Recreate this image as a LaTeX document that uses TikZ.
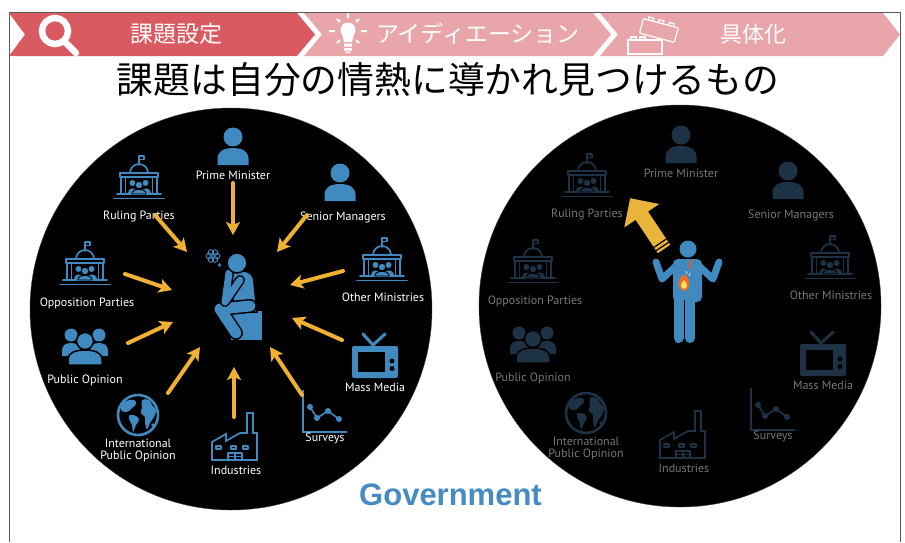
\documentclass[tikz,border=0pt]{standalone}
\usepackage{fontspec}
\setmainfont{PT Sans}
\newfontfamily\jpfont{Noto Sans CJK JP}
\newfontfamily\labfont{PT Sans}
\newfontfamily\govfont{Liberation Sans}
\usetikzlibrary{arrows.meta}

\definecolor{bannerred}{RGB}{217,90,97}
\definecolor{bannerpink}{RGB}{233,166,170}
\definecolor{iconblue}{RGB}{64,138,192}
\definecolor{icondim}{RGB}{30,50,70}
\definecolor{labdim}{RGB}{120,120,120}
\definecolor{arrowgold}{RGB}{240,176,50}
\definecolor{biggold}{RGB}{233,180,60}
\definecolor{govblue}{RGB}{70,140,195}
\definecolor{framegray}{RGB}{90,90,90}
\definecolor{flameorange}{RGB}{240,110,30}
\definecolor{flameyellow}{RGB}{255,220,90}
\colorlet{ic}{iconblue}
\colorlet{lb}{white}

\tikzset{
  iconlabel/.style={text=lb, inner sep=0pt, font=\labfont\fontsize{12}{12}\selectfont},
  bannertext/.style={text=white, inner sep=0pt, font=\jpfont\fontsize{23}{26}\selectfont},
  feed/.style={draw=arrowgold, line width=4pt, line cap=round,
    -{Stealth[length=13pt,width=14pt,inset=3pt]}},
  iconstroke/.style={draw=ic, line width=1.7pt, line join=round, line cap=round},
  pics/person/.style={code={
      \fill[ic] (0,0) circle[radius=9.5];
      \fill[ic] (-15.5,28) -- (-15.5,22) .. controls (-15.5,14) and (-9,11) .. (0,11)
        .. controls (9,11) and (15.5,14) .. (15.5,22) -- (15.5,28) -- cycle;
  }},
  pics/capitol/.style={code={
      \draw[iconstroke] (0,-14) -- (0,-23) -- (5,-23) -- (5,-19.5) -- (0,-19.5);
      \draw[iconstroke] (-9,-6) arc[start angle=180,end angle=360,radius=9];
      \draw[iconstroke] (-19,-6) -- (19,-6) -- (19,-2) -- (-19,-2) -- cycle;
      \draw[iconstroke] (-18,-2) -- (-18,15) (-13.5,-2) -- (-13.5,15)
                        (13.5,-2) -- (13.5,15) (18,-2) -- (18,15);
      \draw[iconstroke] (-22,15) -- (22,15) (-25,19.5) -- (25,19.5);
      % seated group inside the hall
      \fill[ic] (-6.5,4) circle[radius=3];
      \fill[ic] (6.5,4) circle[radius=3];
      \fill[ic] (-11.5,14) .. controls (-11.5,8) and (-2,8) .. (-2,14) -- cycle;
      \fill[ic] (2,14) .. controls (2,8) and (11.5,8) .. (11.5,14) -- cycle;
      \filldraw[ic, draw=black, line width=0.9pt] (0,6) circle[radius=3.8];
      \filldraw[ic, draw=black, line width=0.9pt] (-7,15) -- (-7,14.5)
        .. controls (-7,9) and (7,9) .. (7,14.5) -- (7,15) -- cycle;
  }},
  pics/crowd/.style={code={
      \fill[ic] (-14,-13) circle[radius=6.5];
      \fill[ic] (14,-13) circle[radius=6.5];
      \fill[ic] (-23,8) -- (-23,3) .. controls (-23,-3) and (-19,-5) .. (-14,-5)
        .. controls (-9,-5) and (-5,-3) .. (-5,3) -- (-5,8) -- cycle;
      \fill[ic] (23,8) -- (23,3) .. controls (23,-3) and (19,-5) .. (14,-5)
        .. controls (9,-5) and (5,-3) .. (5,3) -- (5,8) -- cycle;
      \filldraw[ic, draw=black, line width=1.5pt] (0,-7) circle[radius=8.5];
      \filldraw[ic, draw=black, line width=1.5pt] (-17,17) -- (-17,11)
        .. controls (-17,5) and (-10,2) .. (0,2) .. controls (10,2) and (17,5) .. (17,11)
        -- (17,17) -- cycle;
  }},
  pics/globe/.style={code={
      \draw[ic, line width=2.6pt] (0,0) circle[radius=20];
      % the Americas
      \fill[ic] plot[smooth cycle, tension=0.7] coordinates
        {(-17,-8) (-12,-14) (-4,-15) (-2,-11) (-6,-7) (-9,-4) (-12,-3) (-16,-4)};
      \fill[ic] plot[smooth cycle, tension=0.7] coordinates
        {(-8,0) (-2,1) (1,5) (-2,10) (-5,17) (-6,10) (-9,4)};
      % Europe and Africa
      \fill[ic] plot[smooth cycle, tension=0.7] coordinates
        {(4,-15) (11,-15) (14,-10) (18,-5) (16,2) (12,8) (9,14) (7,8) (7,2) (3,-2) (4,-8)};
      \fill[ic] (15,10) circle[radius=1.8];
  }},
  pics/factory/.style={code={
      \draw[iconstroke, line join=miter] (-23,23) -- (-23,5) -- (-9,-3) -- (-9,4) -- (5,-4)
        -- (12,-4) -- (12,-24) -- (18,-24) -- (18,-4) -- (22,-4) -- (22,23) -- cycle;
      \draw[iconstroke] (-19,9) rectangle (-14,12) (-4,9) rectangle (1,12) (8,9) rectangle (13,12);
      \draw[iconstroke] (-7,23) -- (-7,16) -- (7,16) -- (7,23) (0,16) -- (0,23) (-7,19.5) -- (7,19.5);
  }},
  pics/chart/.style={code={
      \draw[ic, line width=1.8pt] (-22,-21) -- (-22,21) -- (22,21);
      \draw[ic, line width=1.6pt] (-15,-4) -- (-8,7) -- (3,0) -- (14,8);
      \foreach \p in {(-15,-4),(-8,7),(3,0),(14,8)} \fill[ic] \p circle[radius=3];
  }},
  pics/tv/.style={code={
      \draw[ic, line width=3pt, line cap=round, line join=round] (-12,-22) -- (-2,-11) -- (10,-22);
      \fill[ic, rounded corners=2pt] (-23,-10) rectangle (23,22);
      \fill[black] (-17,-4) rectangle (10,16);
      \fill[black] (17,5) circle[radius=2.5] (17,12.5) circle[radius=2.5];
  }},
}

% one panel of stakeholders around the government circle
\newcommand{\govpanel}[3]{%
  \begin{scope}[shift={(#2,#3)}]
    \pic (#1pm) at (233,137) {person};
    \node[iconlabel] (#1pmlab) at (233,175) {Prime Minister};
    \pic (#1sm) at (340,173) {person};
    \node[iconlabel] (#1smlab) at (343,217) {Senior Managers};
    \pic (#1rp) at (139,179) {capitol};
    \node[iconlabel] (#1rplab) at (139,217) {Ruling Parties};
    \pic (#1op) at (85,265) {capitol};
    \node[iconlabel] (#1oplab) at (87,303) {Opposition Parties};
    \pic (#1om) at (382,261) {capitol};
    \node[iconlabel] (#1omlab) at (383,297) {Other Ministries};
    \pic (#1po) at (85,348) {crowd};
    \node[iconlabel] (#1polab) at (85,380) {Public Opinion};
    \pic (#1ipo) at (138,415) {globe};
    \node[iconlabel, align=center] (#1ipolab) at (138,450) {International\\Public Opinion};
    \pic (#1ind) at (235,437) {factory};
    \node[iconlabel] (#1indlab) at (236,470) {Industries};
    \pic (#1sur) at (325,411) {chart};
    \node[iconlabel] (#1surlab) at (325,438) {Surveys};
    \pic (#1mm) at (375,356) {tv};
    \node[iconlabel] (#1mmlab) at (375,387) {Mass Media};
  \end{scope}}

\begin{document}
\begin{tikzpicture}[x=1pt,y=-1pt]
  \useasboundingbox (0,0) rectangle (905,542);
  \fill[white] (0,0) rectangle (905,542);

  % outer frame
  \draw[framegray, line width=1pt] (9,542) -- (9,12) -- (900,12) -- (900,542);

  % process banner
  \fill[bannerred] (9,13) -- (297,13) -- (315,34.5) -- (297,56) -- (9,56) -- (25,34.5) -- cycle;
  \fill[bannerpink] (304,13) -- (593,13) -- (611,34.5) -- (593,56) -- (304,56) -- (322,34.5) -- cycle;
  \fill[bannerpink] (600,13) -- (883,13) -- (900,34.5) -- (883,56) -- (600,56) -- (618,34.5) -- cycle;

  % magnifier
  \draw[white, line width=6.5pt] (55,31) circle[radius=13];
  \draw[white, line width=6.5pt, line cap=round] (65,42) -- (76,53);
  % light bulb
  \fill[white] (348,30) circle[radius=7.5];
  \fill[white] (341.5,32) -- (354.5,32) -- (352,42) -- (344,42) -- cycle;
  \fill[white] (344,43.5) rectangle (352,46.5) (344,48) rectangle (352,50.5) (345.5,51.5) rectangle (350.5,53);
  \draw[white, line width=2pt]
    (348,13) -- (348,18) (337,19) -- (340,22) (359,19) -- (356,22)
    (329,31) -- (335,31) (361,31) -- (367,31) (337,43) -- (340,40) (359,43) -- (356,40);
  % building blocks
  \draw[white, line width=1.2pt] (628,40) rectangle (662,54);
  \draw[white, line width=1.2pt] (631,40) -- (631,37) -- (636,37) -- (636,40) (640,40) -- (640,37) -- (645,37) -- (645,40);
  \begin{scope}[shift={(659,30)}, rotate=-15]
    \fill[bannerpink] (-18,-7) rectangle (18,8);
    \draw[white, line width=1.2pt, rounded corners=1pt] (-18,-7) rectangle (18,8);
    \draw[white, line width=1.2pt] (-13,-7) -- (-13,-10) -- (-8,-10) -- (-8,-7)
      (-2.5,-7) -- (-2.5,-10) -- (2.5,-10) -- (2.5,-7) (8,-7) -- (8,-10) -- (13,-10) -- (13,-7);
  \end{scope}

  \node[bannertext] (step1) at (176,34) {課題設定};
  \node[bannertext] (step2) at (478,34) {アイディエーション};
  \node[bannertext, font=\jpfont\fontsize{22}{26}\selectfont] (step3) at (753,34) {具体化};

  % heading
  \node[inner sep=0pt, font=\jpfont\fontsize{36.8}{40}\selectfont] (title) at (448,80)
    {課題は自分の情熱に導かれ見つけるもの};

  % the two government circles
  \filldraw[black, draw=black!75] (231,309) circle[radius=201];
  \filldraw[black, draw=black!75] (680,306) circle[radius=201];

  % left: everyone pushes an agenda at the official
  \colorlet{ic}{iconblue}\colorlet{lb}{white}
  \govpanel{L}{0}{0}

  \coordinate (f1s) at (233,183); \coordinate (f1e) at (233,235);
  \coordinate (f2s) at (307,215); \coordinate (f2e) at (277,252);
  \coordinate (f3s) at (155,215); \coordinate (f3e) at (187,252);
  \coordinate (f4s) at (125,274); \coordinate (f4e) at (172,290);
  \coordinate (f5s) at (343,271); \coordinate (f5e) at (290,285);
  \coordinate (f6s) at (128,343); \coordinate (f6e) at (173,322);
  \coordinate (f7s) at (168,393); \coordinate (f7e) at (200,347);
  \coordinate (f8s) at (234,417); \coordinate (f8e) at (234,367);
  \coordinate (f9s) at (302,395); \coordinate (f9e) at (270,347);
  \coordinate (f10s) at (342,340); \coordinate (f10e) at (292,318);
  \foreach \k in {1,...,10} \draw[feed] (f\k s) -- (f\k e);

  % the thinker
  \fill[iconblue] (231,311) rectangle (262,340);
  \filldraw[iconblue, draw=black, line width=1.5pt] (229,283) .. controls (228,274) and (234,271) .. (242,271)
    .. controls (250,271) and (254,275) .. (254,283) -- (257,312) -- (236,312) -- cycle;
  \draw[black, line width=14pt, line cap=round, line join=round] (250,306) -- (220,309) -- (236,333);
  \draw[iconblue, line width=11pt, line cap=round, line join=round] (250,306) -- (220,309) -- (236,333);
  \draw[black, line width=10pt, line cap=round, line join=round] (240,280) -- (225,302) -- (229,273);
  \draw[iconblue, line width=7pt, line cap=round, line join=round] (240,280) -- (225,302) -- (229,273);
  \filldraw[iconblue, draw=black, line width=1.5pt] (237,263) circle[radius=10];
  \foreach \a in {0,60,...,300}
    \draw[iconblue, line width=0.9pt] (213,256) ++(\a:4) circle[radius=2.8];
  \draw[iconblue, line width=0.9pt] (219.5,265) circle[radius=1.2];

  % right: the official is led by passion instead
  \colorlet{ic}{icondim}\colorlet{lb}{labdim}
  \govpanel{R}{448}{-2}

  \coordinate (mytail) at (664,249);
  \fill[biggold] (657.8,253.2) -- (635.6,219.9) -- (624.3,227.4) -- (630.1,198.2)
    -- (659.3,204.0) -- (648.0,211.5) -- (670.2,244.8) -- cycle;
  \draw[black, line width=1.2pt] (668.6,242.3) -- (656.1,250.7) (666.3,239.0) -- (653.9,247.4);

  % standing figure with a fire in the chest
  \fill[iconblue] (688,249) circle[radius=8.5];
  \fill[iconblue, rounded corners=5pt] (673,259) rectangle (702,302);
  \draw[iconblue, line width=10pt, line cap=round] (678.5,296) -- (678.5,338) (690,296) -- (690,338);
  \draw[black, line width=0.8pt] (684.2,300) -- (684.2,344);
  \draw[iconblue, line width=7pt, line cap=round, line join=round] (676,266) -- (662,279) -- (656,262);
  \draw[iconblue, line width=7pt, line cap=round, line join=round] (699,266) -- (713,279) -- (719,262);
  \fill[flameorange] (684,274) .. controls (691,280) and (691,289) .. (684,291)
    .. controls (677,289) and (677,280) .. cycle;
  \fill[flameyellow] (684,280) .. controls (688,284) and (688,288) .. (684,289)
    .. controls (680,288) and (680,284) .. cycle;
  \draw[flameorange!80!red, line width=1.4pt] (692,260) -- (689,265) -- (691,269);
  \draw[white!80!iconblue, line width=0.8pt] (686,271) -- (687,274) (690,273) -- (689,276);

  \node[anchor=base, inner sep=0pt, text=govblue, font=\govfont\bfseries\fontsize{31}{34}\selectfont]
    (gov) at (450.5,505) {Government};
\end{tikzpicture}
\end{document}
